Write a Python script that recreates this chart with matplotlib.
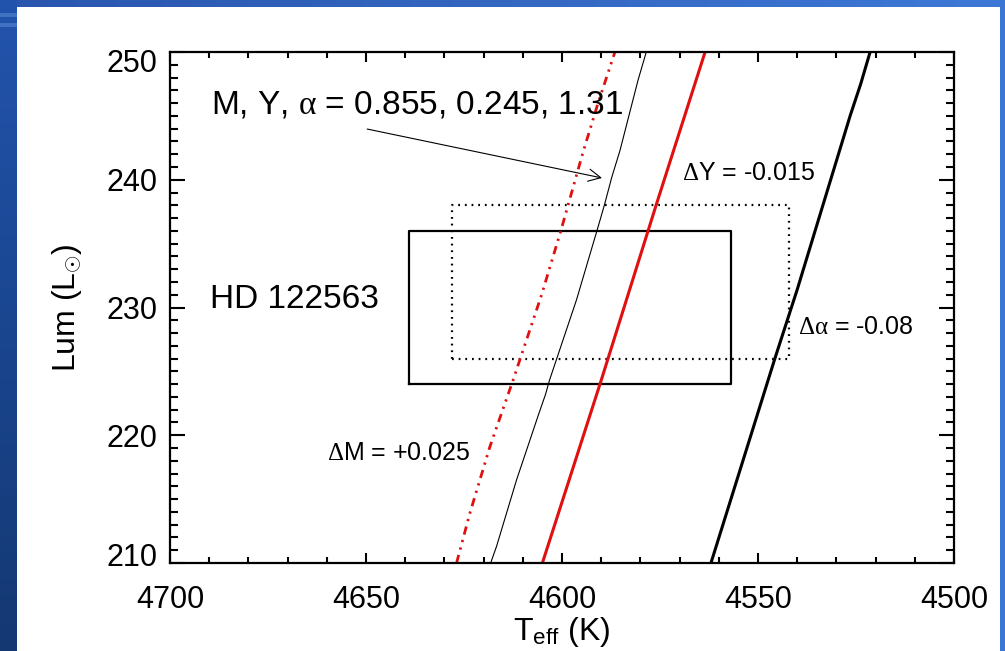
import numpy as np
import matplotlib
matplotlib.use('Agg')
import matplotlib.pyplot as plt
from matplotlib.ticker import MultipleLocator
from matplotlib.colors import LinearSegmentedColormap
from matplotlib.transforms import ScaledTranslation

# Evolution tracks in the HR diagram: luminosity (Lsun) and Teff (K)
# reference model M, Y, alpha = 0.855, 0.245, 1.31
lum_ref = [210, 211.3, 216.5, 221.7, 223.2, 224.3, 230.6, 236.1, 238, 240.2, 242.3, 247.8, 250]
teff_ref = [4618.2, 4616.7, 4611.6, 4605.9, 4604.2, 4603.2, 4596.3, 4591.0, 4589.2, 4587.3, 4585.2, 4580.6, 4578.5]

# delta M = +0.025
lum_dm = [210, 213.9, 219.1, 224.3, 231, 236, 242.2, 246, 250]
teff_dm = [4626.9, 4623.5, 4618.4, 4612.5, 4605.2, 4600.3, 4594.6, 4590.8, 4586.5]

# delta Y = -0.015
lum_dy = [210, 224.3, 238, 250]
teff_dy = [4605.0, 4590.0, 4576.0, 4563.5]

# delta alpha = -0.08
lum_da = [210, 226, 231.4, 245, 247.5, 250]
teff_da = [4562.0, 4545.7, 4540.0, 4526.5, 4523.8, 4521.4]

# observational error boxes for HD 122563
box_teff = [4639, 4557]
box_lum = [224, 236]
box2_teff = [4628, 4542]
box2_lum = [226, 238]

plt.rcParams['font.family'] = ['Liberation Sans', 'DejaVu Sans']
plt.rcParams['mathtext.fontset'] = 'custom'
plt.rcParams['mathtext.rm'] = 'Liberation Serif'
plt.rcParams['mathtext.it'] = 'Liberation Serif:italic'
plt.rcParams['mathtext.sf'] = 'Liberation Sans'

W, H = 1005, 651
fig = plt.figure(figsize=(W / 100, H / 100), dpi=100)

# slide background
bg = fig.add_axes([0, 0, 1, 1], zorder=-5)
bg.axis('off')
left_cmap = LinearSegmentedColormap.from_list('left', ['#2354ad', '#1a4690', '#143872'])
bg.imshow(np.linspace(0, 1, 256).reshape(-1, 1), cmap=left_cmap, aspect='auto',
          extent=(0, 17, H, 0))
top_cmap = LinearSegmentedColormap.from_list('top', ['#2a56ae', '#3e78d6'])
bg.imshow(np.linspace(0, 1, 256).reshape(1, -1), cmap=top_cmap, aspect='auto',
          extent=(17, W, 7, 0))
bg.fill_between([1000, W], 0, H, color='#3a76d6', lw=0)
bg.fill_between([17, 1000], 7, H, color='white', lw=0)
for y0 in (13, 23):
    bg.fill_between([0, 17], y0, y0 + 4, color='#4a7ac8', lw=0, alpha=0.8)
bg.set_xlim(0, W)
bg.set_ylim(H, 0)

ax = fig.add_axes([170 / W, 1 - 563 / H, 784 / W, 511 / H])
ax.set_facecolor('none')

def rect(tx, ly):
    xs = [tx[0], tx[1], tx[1], tx[0], tx[0]]
    ys = [ly[0], ly[0], ly[1], ly[1], ly[0]]
    return xs, ys

bx, by = rect(box_teff, box_lum)
ax.plot(bx, by, color='black', lw=1.6)
bx2, by2 = rect(box2_teff, box2_lum)
ax.plot(bx2, by2, color='black', lw=1.6, linestyle=(0, (0.8, 2.2)))

ax.plot(teff_ref, lum_ref, color='black', lw=0.8)
ax.plot(teff_dm, lum_dm, color='#e01010', lw=2.0,
        linestyle=(0, (3, 2, 0.8, 2, 0.8, 2)))
ax.plot(teff_dy, lum_dy, color='#e01010', lw=2.2)
ax.plot(teff_da, lum_da, color='black', lw=2.2)

ax.set_xlim(4700, 4500)
ax.set_ylim(210, 250)
ax.xaxis.set_major_locator(MultipleLocator(50))
ax.xaxis.set_minor_locator(MultipleLocator(10))
ax.yaxis.set_major_locator(MultipleLocator(10))
ax.yaxis.set_minor_locator(MultipleLocator(1))
ax.tick_params(which='both', direction='in', top=True, right=True, width=1.5,
               labelsize=22, colors='black')
ax.tick_params(axis='x', which='major', length=7, pad=16)
ax.tick_params(axis='x', which='minor', length=4.3)
ax.tick_params(axis='y', which='major', length=11, pad=9)
ax.tick_params(axis='y', which='minor', length=5.5)
for sp in ax.spines.values():
    sp.set_linewidth(1.6)

ax.set_xlabel(r'T$_{\mathsf{eff}}$ (K)', fontsize=23, labelpad=0)
ax.set_ylabel(r'Lum (L$_{\odot}$)', fontsize=23, labelpad=16)

ax.text(4689.5, 245.85, r'M, Y, $\mathrm{\alpha}$ = 0.855, 0.245, 1.31',
        fontsize=24, ha='left', va='center')
ax.annotate('', xy=(4589.8, 240.14), xytext=(4649.7, 243.97),
            arrowprops=dict(arrowstyle='->', lw=0.8, color='black',
                            mutation_scale=22, shrinkA=0, shrinkB=0))
ax.text(4689.8, 230.6, 'HD 122563', fontsize=24, ha='left', va='center')
ax.text(4569.4, 240.55, r'$\mathrm{\Delta}$Y = -0.015', fontsize=18,
        ha='left', va='center')
ax.text(4539.8, 228.5, r'$\mathrm{\Delta\alpha}$ = -0.08', fontsize=18,
        ha='left', va='center')
ax.text(4660.0, 218.6, r'$\mathrm{\Delta}$M = +0.025', fontsize=18,
        ha='left', va='center')

# end labels on the y axis sit a little inside the frame
fig.canvas.draw()
ymin, ymax = ax.get_ylim()
for tick in ax.yaxis.get_major_ticks():
    if np.isclose(tick.get_loc(), ymin):
        shift = 8
    elif np.isclose(tick.get_loc(), ymax):
        shift = -8
    else:
        continue
    tick.label1.set_transform(tick.label1.get_transform()
                              + ScaledTranslation(0, shift / 100, fig.dpi_scale_trans))

fig.savefig('out.png', dpi=100)
